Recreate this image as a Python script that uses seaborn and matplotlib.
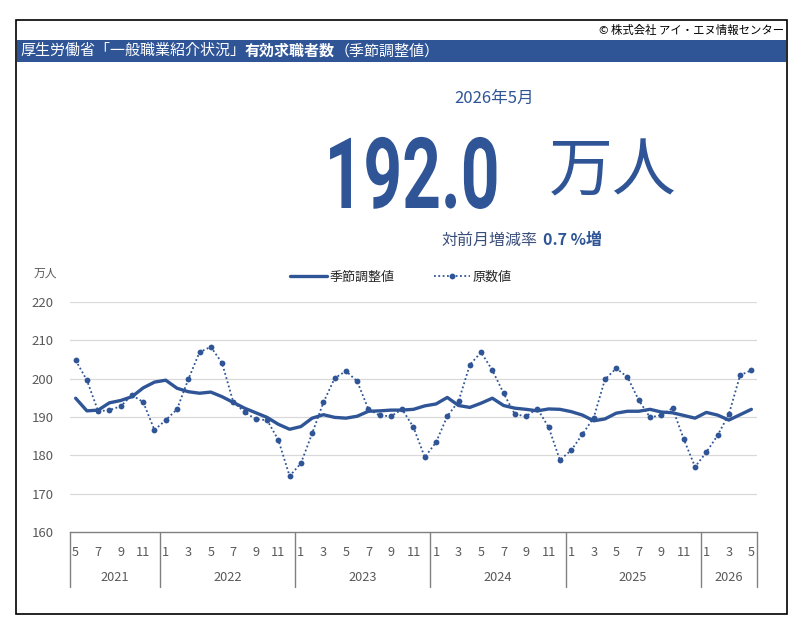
import numpy as np
import pandas as pd
import matplotlib
matplotlib.use("Agg")
import matplotlib.pyplot as plt
import seaborn as sns
from matplotlib import font_manager
from matplotlib import patheffects
from matplotlib.patches import Rectangle
import matplotlib.transforms as mtransforms

# data: 2021/5 - 2026/5
years = [2021, 2022, 2023, 2024, 2025, 2026]
start_month = 5
seasonal = [194.9, 191.6, 191.8, 193.7, 194.3, 195.3, 197.6, 199.1,
            199.6, 197.5, 196.6, 196.2, 196.5, 195.3, 193.8, 192.3, 191.1, 189.9, 188.1, 186.8,
            187.5, 189.7, 190.6, 189.9, 189.7, 190.2, 191.5, 191.6, 191.8, 191.8, 192.0, 192.9,
            193.4, 195.1, 193.0, 192.5, 193.6, 194.9, 193.0, 192.3, 192.0, 191.6, 192.1, 192.0,
            191.4, 190.5, 189.0, 189.5, 191.0, 191.5, 191.5, 192.0, 191.3, 191.1, 190.4, 189.7,
            191.2, 190.5, 189.2, 190.6, 192.0]
original = [204.8, 199.6, 191.5, 191.8, 192.8, 195.7, 193.9, 186.6,
            189.2, 192.0, 199.8, 206.9, 208.3, 204.1, 193.9, 191.3, 189.4, 189.2, 184.0, 174.6,
            177.9, 185.7, 193.8, 200.1, 202.0, 199.3, 192.0, 190.4, 190.2, 192.0, 187.3, 179.5,
            183.4, 190.2, 194.1, 203.6, 206.9, 202.2, 196.2, 190.7, 190.2, 192.2, 187.3, 178.8,
            181.3, 185.5, 189.8, 199.8, 202.7, 200.4, 194.4, 189.9, 190.5, 192.3, 184.2, 177.0,
            180.8, 185.2, 190.7, 200.9, 202.2]
yticks = [160, 170, 180, 190, 200, 210, 220]

months = [(start_month - 1 + i) % 12 + 1 for i in range(len(seasonal))]
yrs = [years[0] + (start_month - 1 + i) // 12 for i in range(len(seasonal))]
df = pd.DataFrame({"idx": range(len(seasonal)), "year": yrs, "month": months,
                   "seasonal": seasonal, "original": original})

BLUE = "#2F5597"
GREY = "#595959"

sns.set_style("white")
plt.rcParams["font.family"] = ["Noto Sans CJK JP", "DejaVu Sans"]

names = {f.name for f in font_manager.fontManager.ttflist}
big_family = ["Roboto"] if "Roboto" in names else ["DejaVu Sans"]


class Squeeze(patheffects.AbstractPathEffect):
    # narrow the glyphs horizontally around a centre (condensed look)
    def __init__(self, sx, cx):
        super().__init__()
        self.sx = sx
        self.cx = cx

    def draw_path(self, renderer, gc, tpath, affine, rgbFace=None):
        aff = affine + mtransforms.Affine2D().translate(-self.cx, 0).scale(self.sx, 1).translate(self.cx, 0)
        renderer.draw_path(gc, tpath, aff, rgbFace)


fig = plt.figure(figsize=(8.04, 6.35), dpi=100)
W, H = 804, 635

def fx(px):
    return px / W

def fy(py):
    return 1 - py / H

# outer frame and header bar
fig.patches.append(Rectangle((fx(16), fy(614)), fx(787) - fx(16), fy(20) - fy(614),
                             transform=fig.transFigure, fill=False, ec="black", lw=1.2))
fig.patches.append(Rectangle((fx(17), fy(62)), fx(786) - fx(17), fy(40) - fy(62),
                             transform=fig.transFigure, fc=BLUE, ec="none"))

fig.text(fx(784), fy(30), "© 株式会社 アイ・エヌ情報センター", ha="right", va="center",
         fontsize=8.2, color="black")

renderer = fig.canvas.get_renderer()
x0 = fx(20)
for seg, wt in [("厚生労働省「一般職業紹介状況」", "normal"), ("有効求職者数", "bold"),
                ("（季節調整値）", "normal")]:
    t = fig.text(x0, fy(51), seg, ha="left", va="center", fontsize=10.8,
                 color="white", fontweight=wt)
    bb = t.get_window_extent(renderer)
    x0 = bb.x1 / fig.bbox.width

fig.text(fx(494), fy(98), "2026年5月", ha="center", va="center", fontsize=12, color=BLUE)

big = fig.text(fx(412), fy(208), "192.0", ha="center", va="baseline", fontsize=71,
               fontweight="bold", color=BLUE, family=big_family)
bw = big.get_window_extent(renderer).width
big.set_path_effects([Squeeze(175.0 / bw, fx(412) * fig.bbox.width)])

fig.text(fx(613), fy(172), "万人", ha="center", va="center", fontsize=46, color=BLUE)
fig.text(fx(537), fy(240), "対前月増減率", ha="right", va="center", fontsize=11.5, color="#3A4E7A")
fig.text(fx(543), fy(240), "0.7 %増", ha="left", va="center", fontsize=11.5,
         fontweight="bold", color=BLUE)
fig.text(fx(45), fy(273), "万人", ha="center", va="center", fontsize=8.5, color=GREY)

# chart
ax = fig.add_axes([fx(70), fy(532), fx(757) - fx(70), fy(302) - fy(532)])
sns.lineplot(data=df, x="idx", y="seasonal", ax=ax, color=BLUE, linewidth=2.4,
             label="季節調整値")
sns.lineplot(data=df, x="idx", y="original", ax=ax, color=BLUE, linewidth=1.3,
             linestyle=(0, (1, 1.4)), marker="o", markersize=4.2, markeredgewidth=0,
             label="原数値")

ax.set_xlim(-0.5, len(df) - 0.5)
ax.set_ylim(yticks[0], yticks[-1])
ax.set_yticks(yticks)
ax.tick_params(axis="y", length=0, pad=12, labelsize=9.5, labelcolor=GREY)
for y in yticks[1:]:
    ax.axhline(y, color="#D9D9D9", lw=0.9, zorder=0)
for s in ["top", "right", "left"]:
    ax.spines[s].set_visible(False)
ax.spines["bottom"].set_color("#808080")
ax.spines["bottom"].set_linewidth(1)

odd = df[df["month"] % 2 == 1]
ax.set_xticks(odd["idx"])
ax.set_xticklabels(odd["month"])
ax.tick_params(axis="x", length=0, pad=10, labelsize=9.2, labelcolor=GREY)
ax.set_xlabel("")
ax.set_ylabel("")

trans = mtransforms.blended_transform_factory(ax.transData, ax.transAxes)
bounds = [-0.5] + [g["idx"].max() + 0.5 for _, g in df.groupby("year")]
for b in bounds:
    ax.plot([b, b], [0, -0.24], transform=trans, color="#808080", lw=1, clip_on=False)
for yv, g in df.groupby("year"):
    ax.text((g["idx"].min() + g["idx"].max()) / 2, -0.196, str(yv), transform=trans,
            ha="center", va="center", fontsize=9.2, color=GREY)

ax.legend(loc="center", bbox_to_anchor=(0.482, 1.109), ncol=2, frameon=False,
          fontsize=9.4, handlelength=2.8, handletextpad=0.2, columnspacing=3.0)

fig.savefig("out.png", dpi=100)
